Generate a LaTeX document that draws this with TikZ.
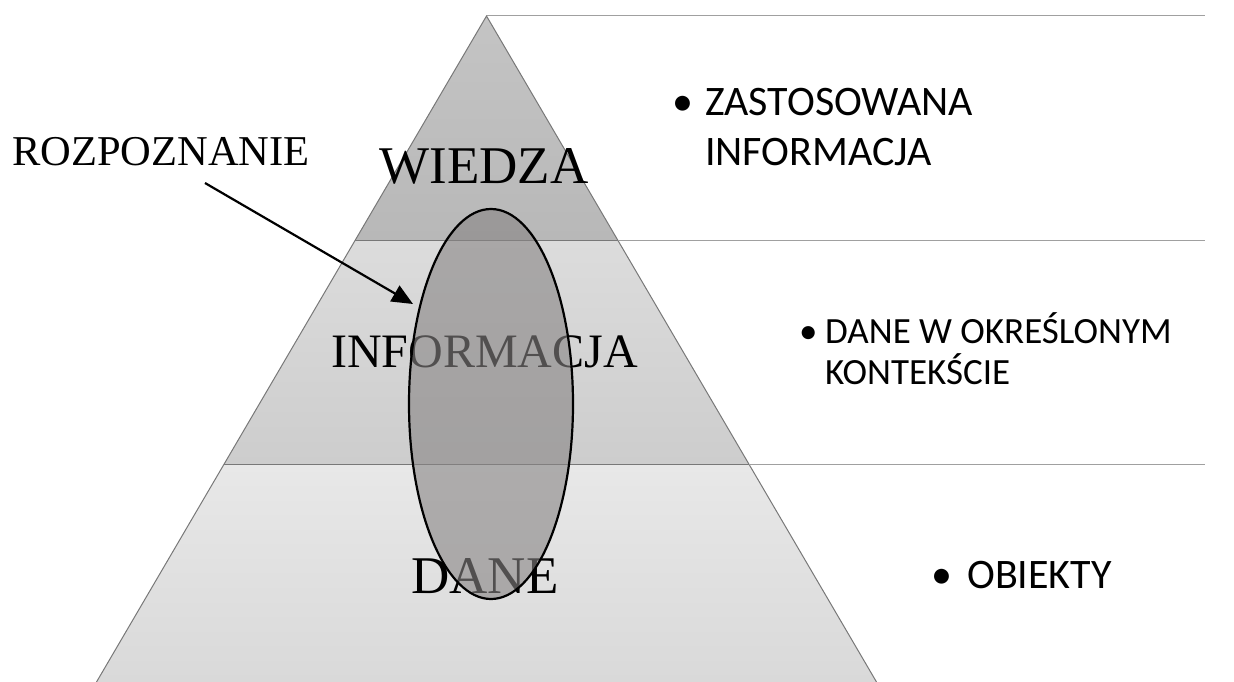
\documentclass[tikz,border=0pt]{standalone}
\usepackage{fontspec}
\setmainfont{Liberation Serif}
\newfontfamily\notefont{Carlito}
\usetikzlibrary{shapes.geometric,arrows.meta}

\definecolor{edge}{RGB}{120,120,120}
\definecolor{rule}{RGB}{160,160,160}
\definecolor{lensfill}{RGB}{135,132,132}

\begin{document}
\begin{tikzpicture}[x=1pt,y=-1pt,
  bandline/.style={draw=edge, line width=1pt},
  level/.style={font=\fontsize{53}{60}\selectfont, anchor=base, inner sep=0pt},
  midlevel/.style={font=\fontsize{48}{54}\selectfont, anchor=base, inner sep=0pt},
  note/.style={font=\notefont\fontsize{42}{48}\selectfont, anchor=base west, inner sep=0pt},
  smallnote/.style={font=\notefont\fontsize{37}{42}\selectfont, anchor=base west, inner sep=0pt},
  callout/.style={font=\fontsize{42.5}{48}\selectfont, anchor=base west, inner sep=0pt},
  lens/.style={ellipse, draw=black, line width=2.2pt, fill=lensfill, fill opacity=0.6,
               minimum width=164pt, minimum height=390pt, inner sep=0pt},
  pointer/.style={line width=2.2pt, -{Triangle[length=21pt,width=18pt]}}
]
\useasboundingbox (0,0) rectangle (1234,682);

% pyramid corners
\coordinate (apex) at (486.5,16);
\coordinate (l1) at (355.3,240);  \coordinate (r1) at (617.7,240);
\coordinate (l2) at (224.2,464);  \coordinate (r2) at (748.8,464);
\coordinate (l3) at (96.5,682);   \coordinate (r3) at (876.5,682);
% right ends of the level rules
\coordinate (e0) at (1205,16);
\coordinate (e1) at (1205,240);
\coordinate (e2) at (1205,464);

% three bands
\shade[top color={rgb,255:red,196;green,196;blue,196}, bottom color={rgb,255:red,184;green,184;blue,184}]
  (apex) -- (r1) -- (l1) -- cycle;
\shade[top color={rgb,255:red,220;green,220;blue,220}, bottom color={rgb,255:red,205;green,205;blue,205}]
  (l1) -- (r1) -- (r2) -- (l2) -- cycle;
\shade[top color={rgb,255:red,232;green,232;blue,232}, bottom color={rgb,255:red,217;green,217;blue,217}]
  (l2) -- (r2) -- (r3) -- (l3) -- cycle;
\draw[bandline] (l3) -- (apex) -- (r3);
\draw[bandline] (l1) -- (r1);
\draw[bandline] (l2) -- (r2);

% level rules to the right
\draw[rule, line width=1pt] (apex) -- (e0);
\draw[rule, line width=1pt] (r1) -- (e1);
\draw[rule, line width=1pt] (r2) -- (e2);

% level names
\node[level] (wiedza) at (484,183) {WIEDZA};
\node[midlevel] (informacja) at (484.5,367) {INFORMACJA};
\node[level] (dane) at (485,593) {DANE};

% recognition lens across the levels
\node[lens] (lens) at (491,404) {};

% callout
\node[callout] (rozp) at (12,165) {ROZPOZNANIE};
\coordinate (from) at (205,183);
\coordinate (tip) at (413,304);
\draw[pointer] (from) -- (tip);

% descriptions
\node[note] (b1) at (672,116) {•};
\node[note] (d1a) at (705,116) {ZASTOSOWANA};
\node[note] (d1b) at (705,165) {INFORMACJA};

\node[smallnote] (b2) at (799,343) {•};
\node[smallnote] (d2a) at (825,343) {DANE W OKREŚLONYM};
\node[smallnote] (d2b) at (825,384) {KONTEKŚCIE};

\node[note] (b3) at (931,588) {•};
\node[note] (d3) at (967,588) {OBIEKTY};
\end{tikzpicture}
\end{document}
